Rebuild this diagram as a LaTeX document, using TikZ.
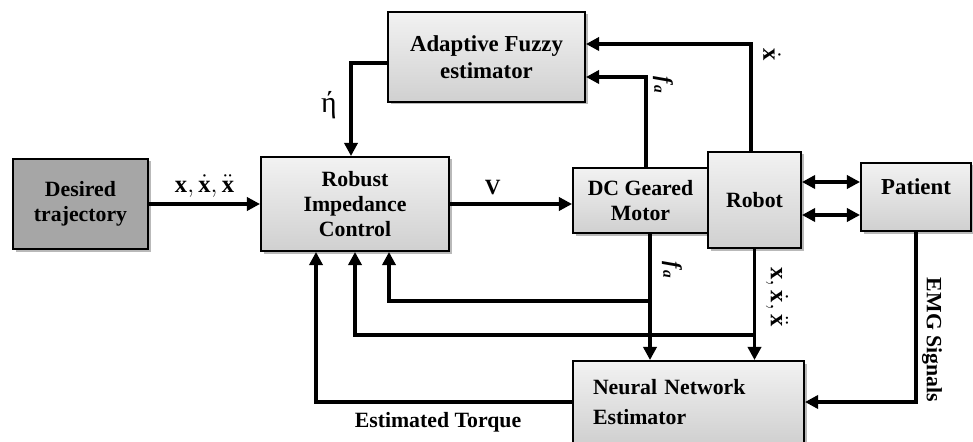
\documentclass[tikz,border=0pt]{standalone}
\usepackage{fontspec}
\setmainfont{Liberation Serif}
\usepackage{tikz}
\usetikzlibrary{arrows.meta, shadows}
\usepackage{xcolor}
\definecolor{bdark}{RGB}{166, 166, 166}
\definecolor{btop}{RGB}{242, 242, 242}
\definecolor{bbot}{RGB}{208, 208, 208}

\begin{document}
\begin{tikzpicture}[
  every node/.style={inner sep=3pt},
  block/.style={rectangle, draw=black, line width=1.1pt,
                top color=btop, bottom color=bbot,
                drop shadow={shadow xshift=0.05cm, shadow yshift=-0.05cm, fill=black!55},
                font=\fontsize{12.4}{14}\selectfont\bfseries, align=center},
  blockdark/.style={block, top color=bdark, bottom color=bdark},
  sig/.style={-{Triangle[length=7.5pt, width=7.5pt]}, line width=2pt},
  bsig/.style={{Triangle[length=7.5pt, width=7.5pt]}-{Triangle[length=7.5pt, width=7.5pt]}, line width=2pt},
  lbl/.style={font=\fontsize{12.4}{14}\selectfont\bfseries, inner sep=1pt}
]
\useasboundingbox (0,0) rectangle (19.46,-8.84);

% Blocks
\node[blockdark, minimum width=2.70cm, minimum height=1.80cm] (des) at (1.61,-4.08) {Desired\\trajectory};
\node[block, minimum width=3.76cm, minimum height=1.88cm] (ric) at (7.10,-4.08) {Robust\\Impedance\\Control};
\node[block, minimum width=3.94cm, minimum height=1.80cm, font=\fontsize{13}{15.5}\selectfont\bfseries] (fuz) at (9.73,-1.14) {Adaptive Fuzzy\\estimator};
\node[block, minimum width=2.70cm, minimum height=1.30cm] (dcm) at (12.81,-4.01) {DC Geared\\Motor};
\node[block, minimum width=1.86cm, minimum height=1.92cm] (rob) at (15.09,-4.00) {Robot};
\node[block, minimum width=2.20cm, minimum height=1.36cm, text depth=0.42cm, font=\fontsize{13}{15}\selectfont\bfseries] (pat) at (18.32,-3.94) {Patient};
\node[block, minimum width=4.62cm, minimum height=1.64cm, text width=3.82cm, inner xsep=0.4cm, align=left] (nne) at (13.77,-8.04) {Neural Network\\[3pt]Estimator};

% Tap points
\coordinate (fa) at ([xshift=0.19cm]dcm.south);
\coordinate (xr) at (rob.south);

% Forward path
\draw[sig] (des) -- (ric)
  node[lbl, midway, above=2pt, font=\fontsize{14}{16}\selectfont] (lxd) {$\mathbf{x}, \dot{\mathbf{x}}, \ddot{\mathbf{x}}$};
\draw[sig] (ric.east) -- (ric.east -| dcm.west)
  node[lbl, pos=0.35, above=3pt] (lv) {V};
\draw[bsig] ([yshift=0.36cm]rob.east) -- ([yshift=0.36cm]rob.east -| pat.west);
\draw[bsig] ([yshift=-0.30cm]rob.east) -- ([yshift=-0.30cm]rob.east -| pat.west);

% Fuzzy estimator loop
\draw[sig] ([yshift=-0.12cm]fuz.west) -| ([xshift=-0.08cm]ric.north);
\draw[sig] ([xshift=-0.07cm]rob.north) |- ([yshift=0.26cm]fuz.east);
\draw[sig] ([xshift=0.11cm]dcm.north) |- ([yshift=-0.40cm]fuz.east);
\node[font=\fontsize{17}{19}\selectfont] (leta) at (6.58,-2.10) {ή};
\node[lbl, rotate=-90, font=\fontsize{14}{16}\selectfont] (lxdot) at (15.44,-1.10) {$\dot{\mathbf{x}}$};
\node[lbl, rotate=-90] (lfa1) at (13.26,-1.70) {\textit{f}\textsubscript{\textit{a}}};

% Feedback to controller and neural network
\draw[sig] (fa) -- (fa |- nne.north);
\draw[sig] (xr) -- (xr |- nne.north);
\draw[sig] (fa |- 0,-6.02) -| ([xshift=0.68cm]ric.south);
\draw[sig] (xr |- 0,-6.70) -| (ric.south);
\draw[sig] (nne.west) -| ([xshift=-0.78cm]ric.south);
\draw[sig] (pat.south) |- (nne.east);
\node[lbl, rotate=-90] (lfa2) at (13.44,-5.40) {\textit{f}\textsubscript{\textit{a}}};
\node[lbl, rotate=-90, font=\fontsize{14}{16}\selectfont] (lxr) at (15.54,-5.94) {$\mathbf{x}, \dot{\mathbf{x}}, \ddot{\mathbf{x}}$};
\node[lbl, rotate=-90] (lemg) at (18.64,-6.80) {EMG Signals};
\node[lbl] (ltau) at (8.76,-8.44) {Estimated Torque};

\end{tikzpicture}
\end{document}
